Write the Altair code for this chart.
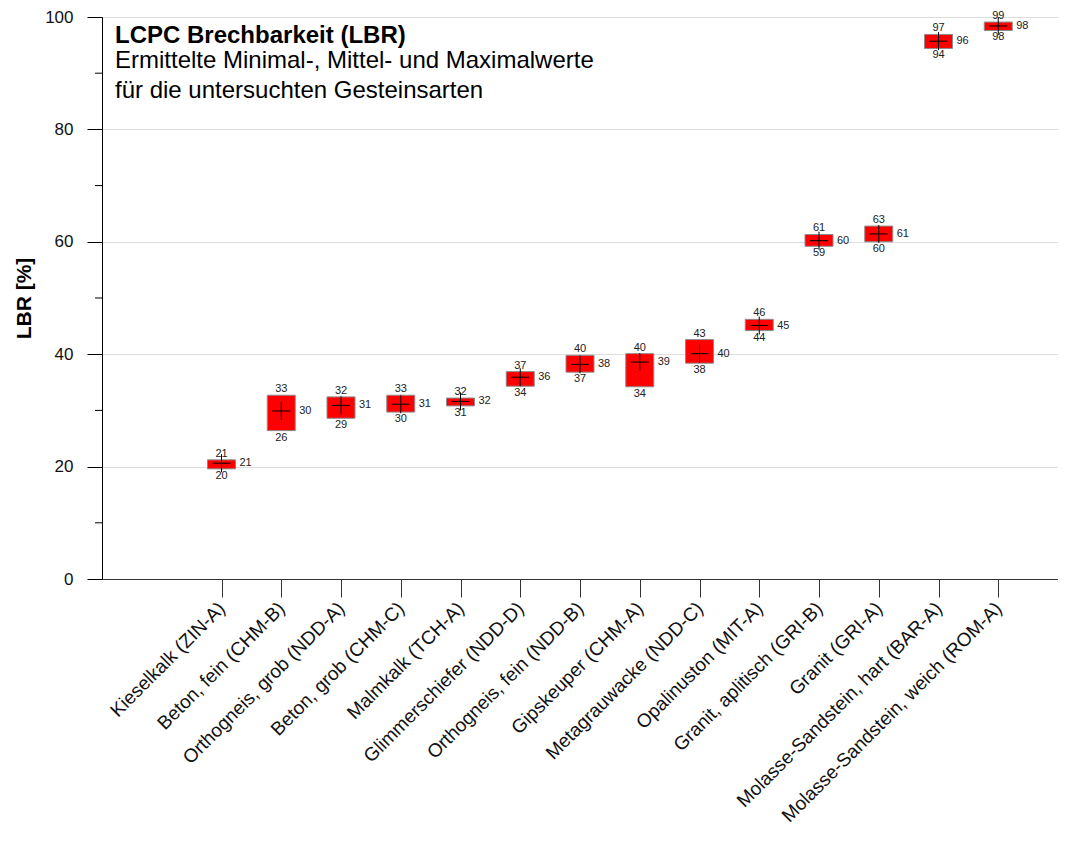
import altair as alt
import pandas as pd

FONT = "Liberation Sans"

categories = [
    "Kieselkalk (ZIN-A)",
    "Beton, fein (CHM-B)",
    "Orthogneis, grob (NDD-A)",
    "Beton, grob (CHM-C)",
    "Malmkalk (TCH-A)",
    "Glimmerschiefer (NDD-D)",
    "Orthogneis, fein (NDD-B)",
    "Gipskeuper (CHM-A)",
    "Metagrauwacke (NDD-C)",
    "Opalinuston (MIT-A)",
    "Granit, aplitisch (GRI-B)",
    "Granit (GRI-A)",
    "Molasse-Sandstein, hart (BAR-A)",
    "Molasse-Sandstein, weich (ROM-A)",
]
lbr_min = [19.6, 26.4, 28.6, 29.7, 30.8, 34.3, 36.8, 34.2, 38.4, 44.2, 59.2, 60.0, 94.4, 97.6]
lbr_mean = [20.6, 29.9, 30.9, 31.1, 31.6, 35.9, 38.2, 38.6, 40.1, 45.1, 60.2, 61.4, 95.7, 98.4]
lbr_max = [21.2, 32.7, 32.4, 32.7, 32.2, 36.9, 39.8, 40.1, 42.6, 46.2, 61.3, 62.8, 96.9, 99.1]

y_ticks = [0, 20, 40, 60, 80, 100]
y_minor_ticks = [10, 30, 50, 70, 90]

title_text = "LCPC Brechbarkeit (LBR)"
subtitle_text = "Ermittelte Minimal-, Mittel- und Maximalwerte\nf\u00fcr die untersuchten Gesteinsarten"

# empty slots on the category axis: two before the first rock type, one after the last
slot_domain = ["_0", "_1"] + categories + ["_end"]

df = pd.DataFrame({
    "name": categories,
    "min": lbr_min,
    "mean": lbr_mean,
    "max": lbr_max,
})

x_scale = alt.Scale(type="point", domain=slot_domain, padding=0)
y_scale = alt.Scale(domain=[0, 100], nice=False)

x_axis = alt.Axis(
    values=categories,
    labelAngle=-45,
    labelAlign="right",
    labelBaseline="middle",
    labelFontSize=19,
    labelFont=FONT,
    labelColor="#111111",
    labelPadding=8,
    labelOverlap=False,
    labelLimit=0,
    tickSize=18,
    tickColor="#333333",
    domainColor="#333333",
    grid=False,
    title=None,
)

y_axis = alt.Axis(
    values=y_ticks,
    title="LBR [%]",
    titleFontSize=21,
    titleFontWeight="bold",
    titleFont=FONT,
    titleColor="black",
    titlePadding=10,
    labelFontSize=17,
    labelFont=FONT,
    labelColor="#111111",
    labelPadding=14,
    tickSize=15,
    tickColor="black",
    domainColor="black",
    grid=True,
    gridColor="#dddddd",
)


def X():
    return alt.X("name:N", scale=x_scale, sort=None, axis=x_axis, title=None)


def Y(field):
    return alt.Y(field, scale=y_scale, axis=y_axis, title="LBR [%]")


base = alt.Chart(df)

boxes = base.mark_bar(size=28, color="#ff0000", stroke="#8c8c8c", strokeWidth=1).encode(
    x=X(),
    y=Y("min:Q"),
    y2="max:Q",
)

crosses = base.mark_point(
    shape="M-1,0L1,0M0,-1L0,1",
    size=324,
    filled=False,
    color="black",
    strokeWidth=1,
    opacity=1,
).encode(x=X(), y=Y("mean:Q"))

text_style = dict(font=FONT, fontSize=11, color="#222222")

max_labels = base.mark_text(baseline="bottom", dy=-1, **text_style).encode(
    x=X(), y=Y("max:Q"), text=alt.Text("max:Q", format=".0f"),
)
min_labels = base.mark_text(baseline="top", dy=1, **text_style).encode(
    x=X(), y=Y("min:Q"), text=alt.Text("min:Q", format=".0f"),
)
mean_labels = base.mark_text(align="left", baseline="middle", dx=18, **text_style).encode(
    x=X(), y=Y("mean:Q"), text=alt.Text("mean:Q", format=".0f"),
)

minor = alt.Chart(pd.DataFrame({"v": y_minor_ticks})).mark_rule(color="black", strokeWidth=1).encode(
    y=Y("v:Q"),
    x=alt.value(-7),
    x2=alt.value(0),
)

title_mark = alt.Chart(pd.DataFrame({"t": [title_text]})).mark_text(
    align="left", baseline="alphabetic", font=FONT, fontSize=24, fontWeight="bold", color="black"
).encode(x=alt.value(13), y=alt.value(26), text="t:N")

subtitle_mark = alt.Chart(pd.DataFrame({"t": [subtitle_text]})).mark_text(
    align="left", baseline="alphabetic", font=FONT, fontSize=24, color="black",
    lineBreak="\n", lineHeight=30,
).encode(x=alt.value(13), y=alt.value(51), text="t:N")

chart = alt.layer(
    boxes, crosses, max_labels, min_labels, mean_labels, minor, title_mark, subtitle_mark
).properties(
    width=956,
    height=562,
    padding={"left": 94, "top": 9, "right": 0, "bottom": 254},
    autosize=alt.AutoSizeParams(type="none"),
).configure_view(stroke=None)

chart.save("out.html", embed_options={"renderer": "svg", "actions": False})
